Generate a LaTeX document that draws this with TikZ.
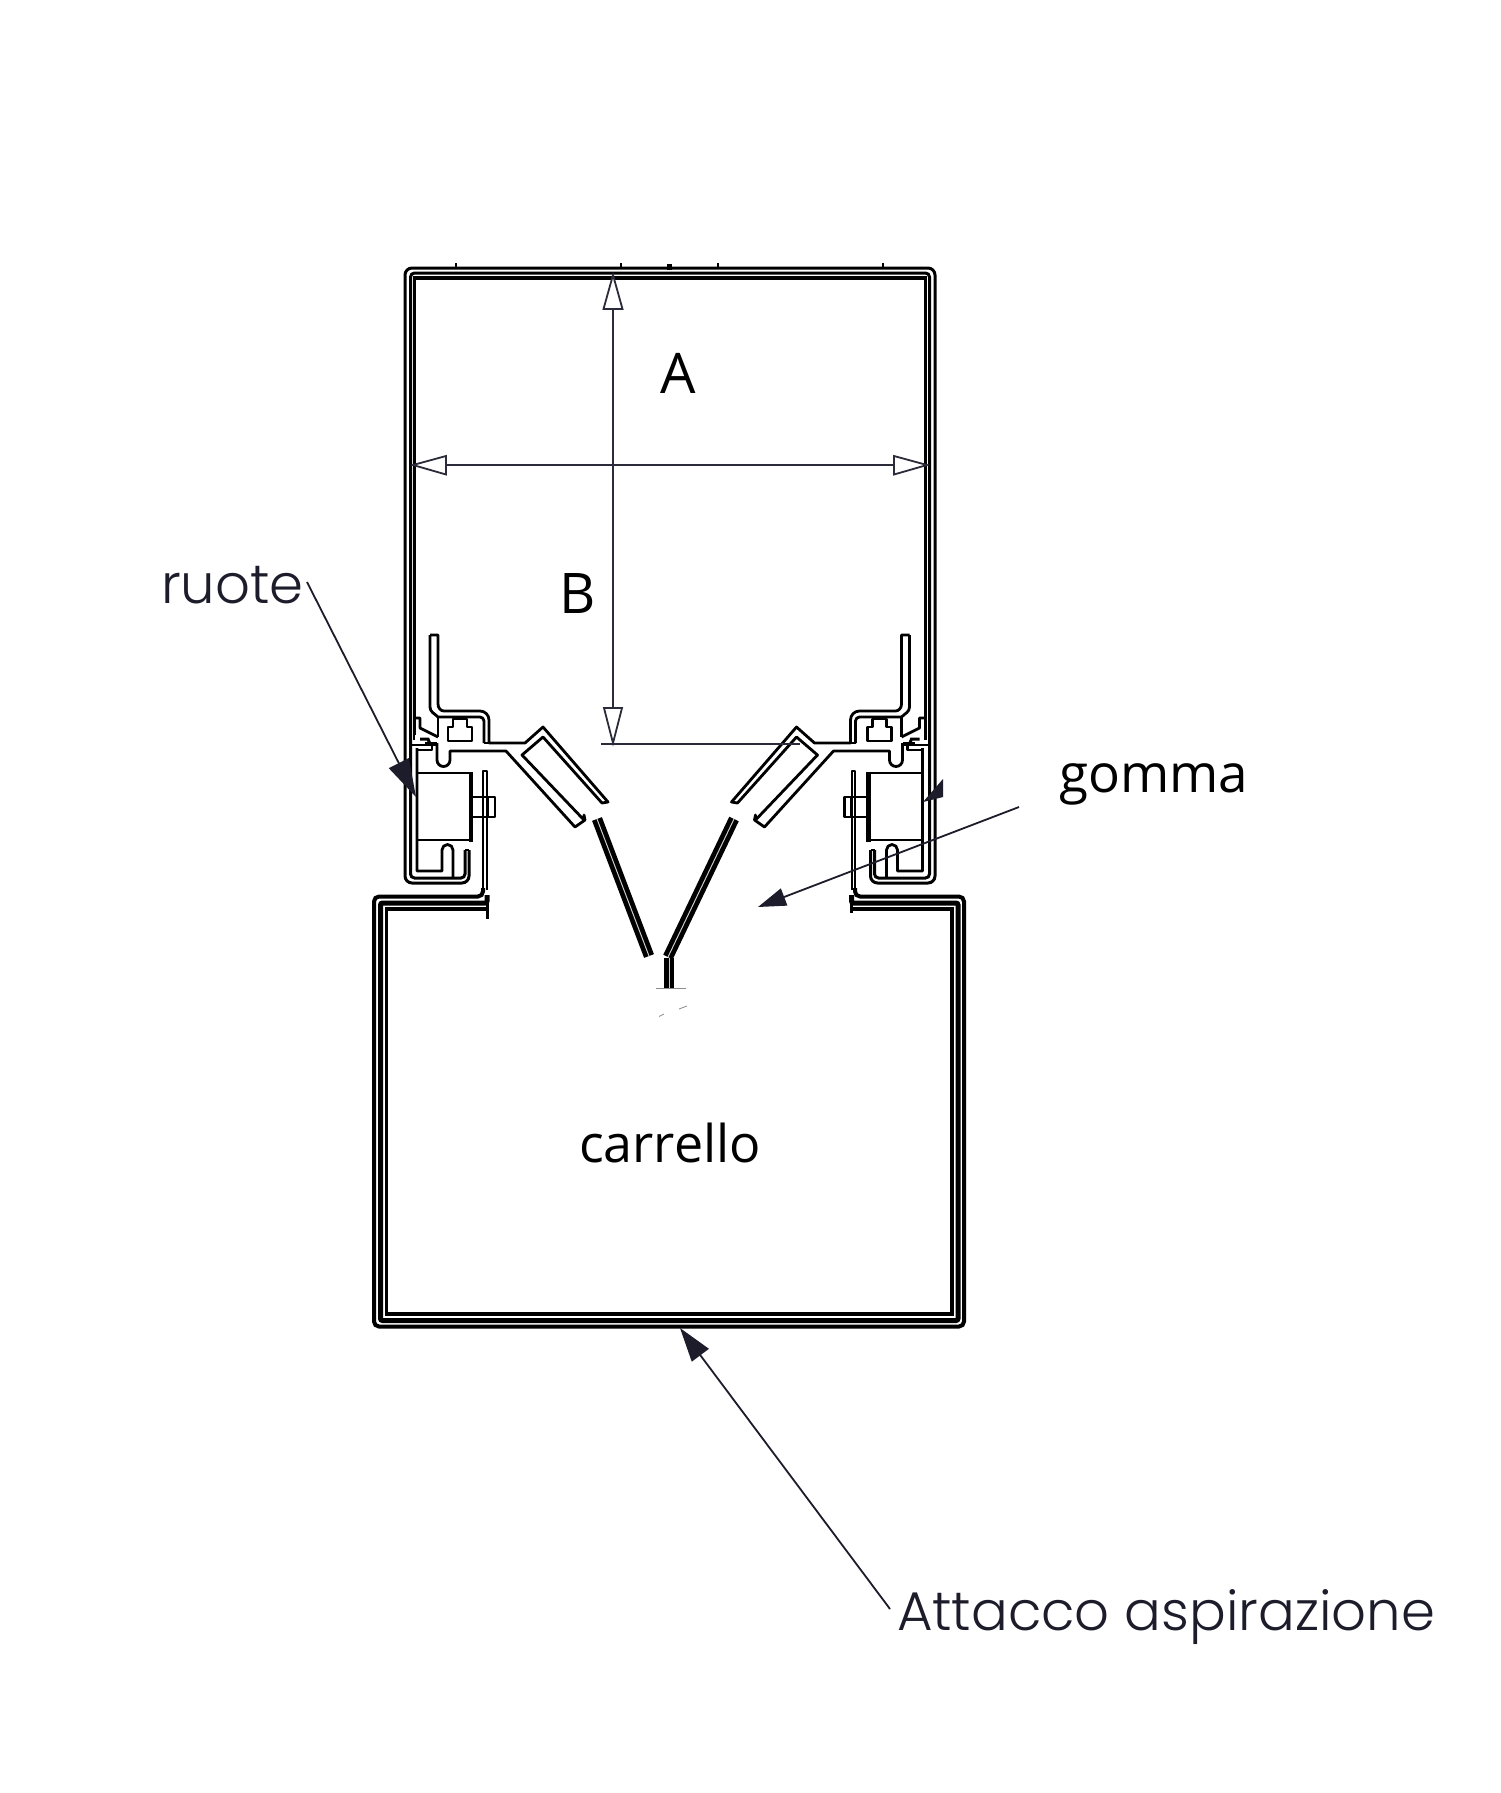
\documentclass[tikz,border=0pt]{standalone}
\usepackage{fontspec}
\usetikzlibrary{arrows.meta}
\newfontfamily\labelfont{Open Sans}
\newfontfamily\geofont[UprightFont={* Light}]{Poppins}
\definecolor{ink}{HTML}{1C1C2A}
\definecolor{dimink}{HTML}{2B2B3A}
\tikzset{
  steel/.style={draw=black,line width=2.8pt,line join=round},
  thin steel/.style={draw=black,line width=2pt,line join=round},
  dimline/.style={draw=dimink,line width=1.8pt},
  hollowtip/.style={draw=dimink,line width=1.8pt,fill=white,line join=miter},
  leader/.style={draw=ink,line width=1.8pt},
  sheet/.style={draw=black,line width=10.5pt},
  sheetcore/.style={draw=black!20,line width=1pt},
  speck/.style={draw=black!45,line width=.8pt},
  txt/.style={anchor=base west,inner sep=0pt,outer sep=0pt,text=black,font=\labelfont\fontsize{53}{53}\selectfont},
  captxt/.style={anchor=base west,inner sep=0pt,outer sep=0pt,text=black,font=\labelfont\fontsize{56}{56}\selectfont},
  geotxt/.style={anchor=base west,inner sep=0pt,outer sep=0pt,text=ink,font=\geofont\fontsize{54.5}{54.5}\selectfont},
}
\newcommand{\halfprofile}{%
  % wheel block and channel
  \draw[steel] (417,748)--(417,871)--(442,871)--(442,850) arc[start angle=180,end angle=360,radius=5.5]--(453,877);
  \draw[steel] (417,773)--(471,773);
  \draw[steel] (417,840)--(471,840);
  \draw[draw=black,line width=4.5pt] (471,771.5)--(471,841.5);
  \draw[steel] (471,797)--(495,797)--(495,817)--(471,817);
  \draw[steel] (488,797)--(488,817);
  % flange and top of extrusion
  \draw[steel] (430,635)--(438,635)--(438,704) to[out=-90,in=180] (444,711)--(480,711) to[out=0,in=90] (489,720)--(489,743)--(525,743)--(543,727)--(608,802)--(602,803)--(543,737)--(522,755)--(584,820)--(584,815)--(585,820)--(575,827)--(506,751)--(450,751)--(450,760) arc[start angle=0,end angle=180,radius=6.5]--(437,743);
  \draw[steel] (430,635)--(430,707) to[out=-90,in=135] (438,717)--(480,717) to[out=0,in=90] (484,721)--(484,743);
  \draw[steel] (438,717)--(438,737);
  \draw[steel] (484,743)--(489,743);
  % T-slot
  \draw[steel] (448,727)--(448,741)--(472,741)--(472,727)--(467,727)--(467,719)--(453,719)--(453,727)--cycle;
  % clip
  \draw[steel] (414,718)--(420,718)--(420,728)--(430,733)--(438,737);
  \draw[steel] (414,718)--(414,740);
  \draw[steel] (410,745)--(436,745);
  \draw[steel] (417,750)--(432,750)--(432,745);
  \draw[line width=3pt,draw=black] (420,739)--(428,739)--(430,744);
  \draw[steel] (437,743)--(425,743);
}
\begin{document}
\begin{tikzpicture}[x=1pt,y=-1pt]
\useasboundingbox (0,0) rectangle (1501,1793);
\fill[white] (0,0) rectangle (1501,1793);

% named points
\coordinate (ruoteFrom) at (307,582);
\coordinate (ruoteTip) at (416,797);
\coordinate (gommaFrom) at (1019,807);
\coordinate (gommaTip) at (758,907);
\coordinate (attFrom) at (890,1609);
\coordinate (attTip) at (680,1328);
\coordinate (vTop) at (613,275);
\coordinate (vBot) at (613,743);
\coordinate (hLeft) at (413,465);
\coordinate (hRight) at (927,465);
\coordinate (baseL) at (601,744);
\coordinate (baseR) at (800,744);

% upper casing
\draw[draw=black,line width=3pt,rounded corners=7pt] (469,850)--(469,883)--(405,883)--(405,268)--(935,268)--(935,883)--(870.5,883)--(870.5,850);
\draw[draw=black,line width=3pt,rounded corners=4pt] (465,850)--(465,878)--(410.5,878)--(410.5,273)--(929.5,273)--(929.5,878)--(874.5,878)--(874.5,850);
\draw[steel] (465,850)--(469,850);
\draw[steel] (870.5,850)--(874.5,850);
\draw[draw=black,line width=3.8pt,line join=miter] (414.5,735)--(414.5,278)--(925.5,278)--(925.5,735);
% top ticks
\foreach \tx in {456,621,718,883}{\draw[thin steel] (\tx,263)--(\tx,268);}
\draw[draw=black,line width=5pt] (669,264)--(669,270);

% profiles
\halfprofile
\begin{scope}[xscale=-1,xshift=-1339.5pt]
\halfprofile
\end{scope}

% lower carriage: thin uprights ending in the bent top plate
\draw[thin steel] (487,890)--(487,771)--(483,771)--(483,890);
\draw[thin steel] (855,890)--(855,771)--(851.5,771)--(851.5,890);
\draw[draw=black,line width=4pt,rounded corners=5pt] (483,888)--(483,896.5)--(374,896.5)--(374,1326.5)--(964,1326.5)--(964,896.5)--(855,896.5)--(855,888);
\draw[draw=black,line width=5pt,rounded corners=2pt] (487,895)--(487,903)--(380.5,903)--(380.5,1320.5)--(958,1320.5)--(958,903)--(851.5,903)--(851.5,895);
\draw[draw=black,line width=3.4pt] (487,909)--(386.5,909)--(386.5,1314)--(952,1314)--(952,909)--(851.5,909);
\draw[draw=black,line width=3pt] (487,903)--(487,919);
\draw[draw=black,line width=3pt] (851.5,903)--(851.5,913);

% V seal
\draw[sheet] (597,819)--(649,956);
\draw[sheetcore] (597,819)--(649,956);
\draw[sheet] (734,819)--(668,957);
\draw[sheetcore] (734,819)--(668,957);
\draw[draw=black,line width=10.5pt] (669,958)--(669,988);
\draw[draw=black!20,line width=1pt] (669,958)--(669,988);
\draw[speck] (656,988.5)--(686,988.5);
\draw[speck] (659,1016.5)--(664,1014);
\draw[speck] (679,1009)--(687,1006);

% dimension lines
\draw[dimline] (vTop)--(vBot);
\draw[dimline] (hLeft)--(hRight);
\draw[dimline] (baseL)--(baseR);
\draw[hollowtip] (vTop)--(622.5,309)--(603.5,309)--cycle;
\draw[hollowtip] (vBot)--(622,708)--(604,708)--cycle;
\draw[hollowtip] (hLeft)--(446,456)--(446,474.5)--cycle;
\draw[hollowtip] (hRight)--(894,456)--(894,474.5)--cycle;

% labels
\node[captxt] (lblA) at (660,393) {A};
\node[captxt] (lblB) at (559,613) {B};
\node[txt,font=\labelfont\fontsize{52}{52}\selectfont] (lblcarrello) at (579,1162) {carrello};
\node[txt] (lblgomma) at (1059,792) {gomma};
\node[geotxt] (lblruote) at (161,603) {ruote};
\node[geotxt] (lblatt) at (897,1630) {Attacco aspirazione};

% leaders
\draw[leader,-{Triangle[length=38pt,width=22pt]}] (ruoteFrom)--(ruoteTip);
\draw[leader,-{Triangle[length=28pt,width=18pt]}] (gommaFrom)--(gommaTip);
\draw[leader,-{Triangle[length=34pt,width=21pt]}] (attFrom)--(attTip);
\fill[ink] (923,802)--(943,779)--(943,797)--cycle;
\end{tikzpicture}
\end{document}
